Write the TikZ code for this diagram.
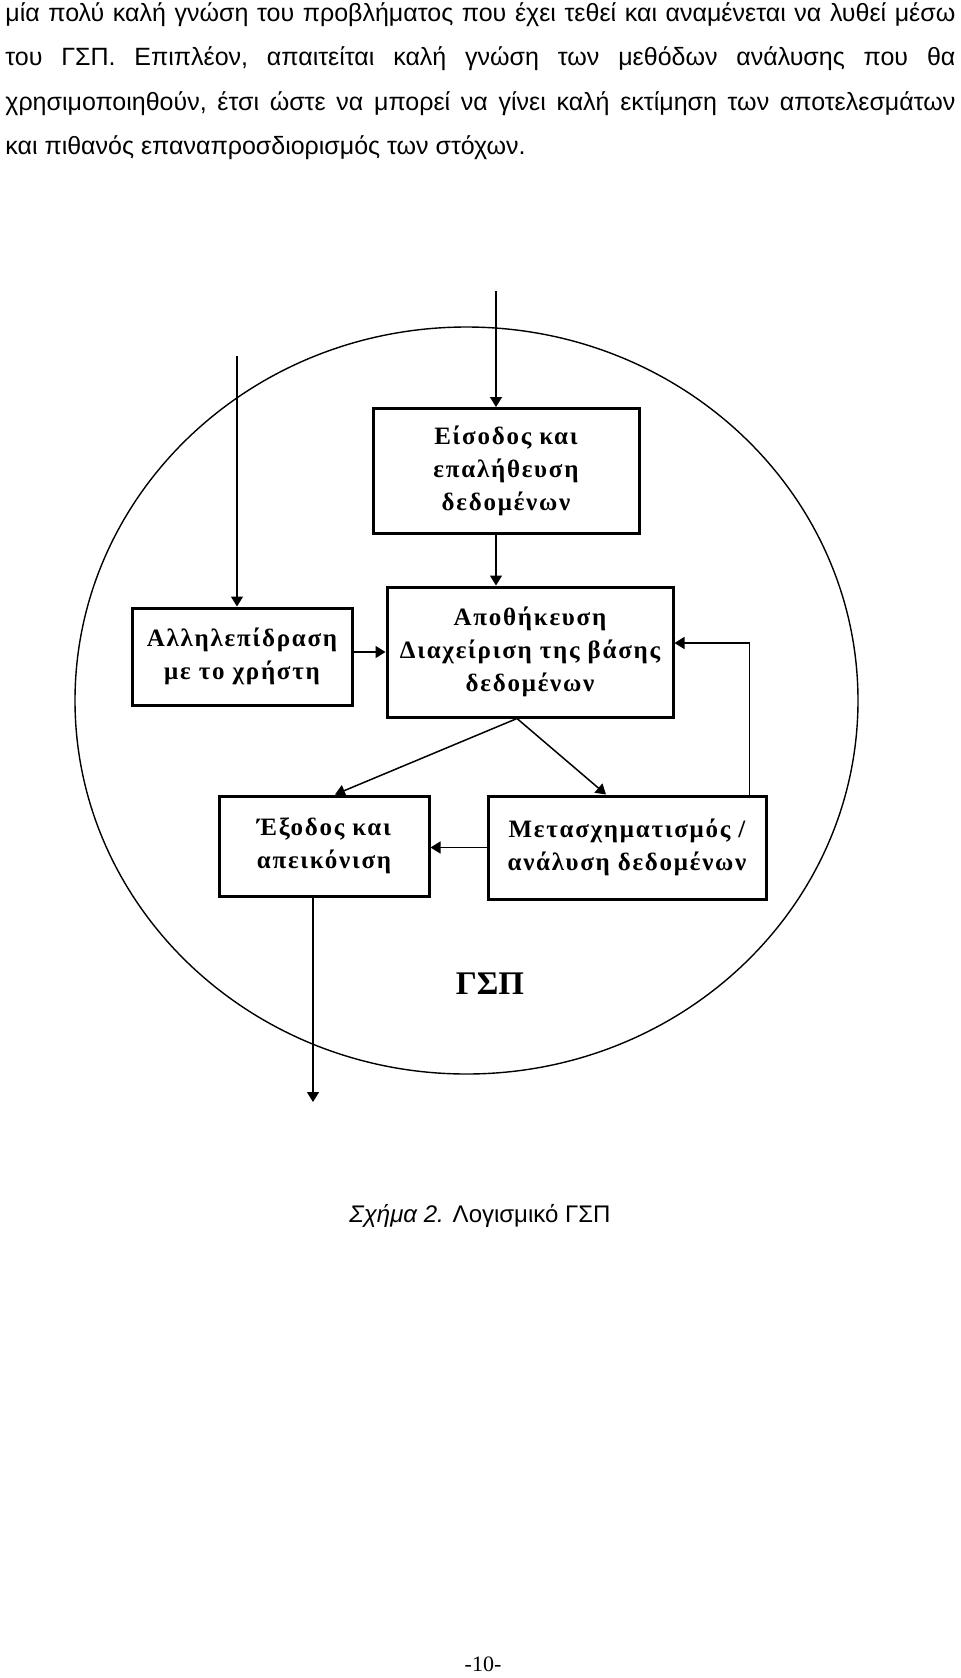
\documentclass[tikz,border=0pt]{standalone}
\usepackage{fontspec}
\setmainfont{Liberation Sans}
\newfontfamily\boxfont{Liberation Serif}[LetterSpace=7]
\newfontfamily\pagefont{Liberation Serif}
\usetikzlibrary{arrows.meta}
\tikzset{
    box/.style={draw, rectangle, line width=1.5pt, align=center, inner sep=0pt,
        font=\boxfont\bfseries\fontsize{12.5}{16.5}\selectfont},
    conn/.style={line width=0.75pt, -{Triangle[length=5pt,width=6pt]}},
    para/.style={anchor=base west, inner sep=0pt, text width=475pt, align=justify,
        font=\frenchspacing\fontsize{12.5}{22.25}\selectfont}
}

\begin{document}
\begin{tikzpicture}[x=0.5pt, y=-0.5pt]
    \useasboundingbox (0,0) rectangle (960,1678);

    \node[para] (body) at (5,21) {μία πολύ καλή γνώση του προβλήματος που έχει τεθεί και αναμένεται να λυθεί μέσω\linebreak
        του ΓΣΠ. Επιπλέον, απαιτείται καλή γνώση των μεθόδων ανάλυσης που θα\linebreak
        χρησιμοποιηθούν, έτσι ώστε να μπορεί να γίνει καλή εκτίμηση των αποτελεσμάτων\linebreak
        και πιθανός επαναπροσδιορισμός των στόχων.};

    % the system boundary
    \draw[line width=0.7pt] (466.5,700.5) ellipse [x radius=391.5, y radius=373.5];

    \node[box, minimum width=133pt, minimum height=62.5pt] (input) at (506,471) {Είσοδος και\\επαλήθευση\\δεδομένων};
    \node[box, minimum width=143pt, minimum height=65pt] (storage) at (530,652) {Αποθήκευση\\Διαχείριση της βάσης\\δεδομένων};
    \node[box, minimum width=110pt, minimum height=48.5pt] (user) at (242,656.5) {Αλληλεπίδραση\\με το χρήστη};
    \node[box, minimum width=105pt, minimum height=50pt] (output) at (324,846) {Έξοδος και\\απεικόνιση};
    \node[box, minimum width=139pt, minimum height=51.5pt] (transform) at (627,847.5) {Μετασχηματισμός /\\ανάλυση δεδομένων};

    \coordinate (feedin) at (496,291);
    \coordinate (userin) at (237,356);
    \coordinate (outend) at (313,1102);

    \draw[conn] (feedin) -- (feedin |- input.north);
    \draw[conn] (input.south -| feedin) -- (storage.north -| feedin);
    \draw[conn] (userin) -- (userin |- user.north);
    \draw[conn] (storage.west -| user.east) -- (storage.west);
    \draw[conn] ([xshift=-6.5pt]storage.south) -- ([xshift=5.5pt]output.north);
    \draw[conn] ([xshift=-6.5pt]storage.south) -- ([xshift=-10.5pt]transform.north);
    \draw[conn] ([xshift=-9pt]transform.north east) |- ([yshift=4.5pt]storage.east);
    \draw[conn] (transform.west) -- (transform.west -| output.east);
    \draw[conn] (output.south -| outend) -- (outend);

    \node[font=\pagefont\bfseries\fontsize{16.5}{20}\selectfont] (gsp) at (490,984) {ΓΣΠ};
    \node[anchor=base, font=\fontsize{12}{14}\selectfont] (caption) at (480,1222) {\textit{Σχήμα 2.} Λογισμικό ΓΣΠ};
    \node[font=\pagefont\fontsize{11}{13}\selectfont] (pagenum) at (483,1664) {-10-};
\end{tikzpicture}
\end{document}
